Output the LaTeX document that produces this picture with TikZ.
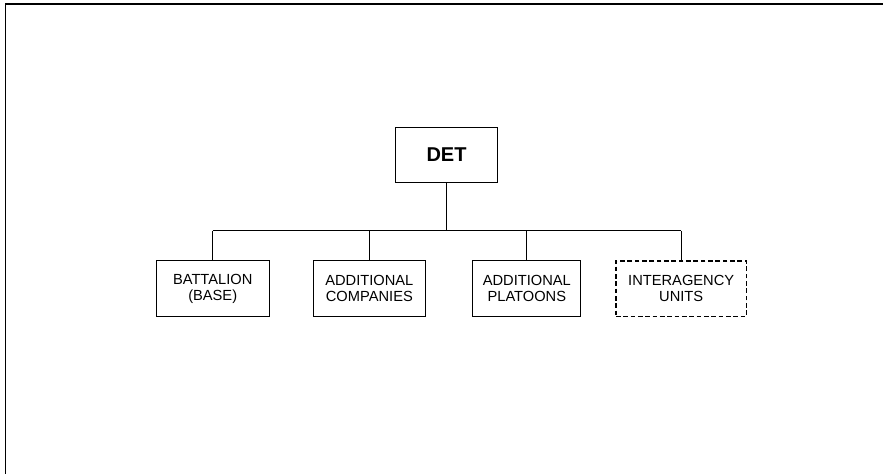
\documentclass[tikz,border=0pt]{standalone}
\usepackage{fontspec}
\setmainfont{Liberation Sans}
\usetikzlibrary{positioning}
\tikzset{
  unitbox/.style={draw=black,fill=white,line width=0.75pt,minimum height=41.6pt,inner sep=2pt,align=center,font=\fontsize{11}{12}\selectfont},
  headbox/.style={unitbox,minimum width=77pt,minimum height=41.5pt,font=\fontsize{15}{17}\selectfont\bfseries},
  dashbox/.style={unitbox,line width=1pt,dash pattern=on 3.5pt off 2pt},
  conn/.style={draw=black,line width=0.75pt},
  frameline/.style={draw=black,line width=1.1pt}
}
\begin{document}
\begin{tikzpicture}[x=0.75pt,y=-0.75pt]
  \useasboundingbox (0,0) rectangle (883,474);
  % cropped frame
  \coordinate (fa) at (5.5,474);
  \coordinate (fb) at (5.5,4);
  \coordinate (fc) at (883,4);
  \draw[frameline] (fa) -- (fb) -- (fc);
  % top
  \node[headbox] (det) at (446.5,155) {DET};
  % units
  \node[unitbox,minimum width=85pt] (batt) at (212.7,288.6) {BATTALION\\(BASE)};
  \node[unitbox,minimum width=83.5pt,right=32.5pt of batt] (comp) {ADDITIONAL\\COMPANIES};
  \node[unitbox,minimum width=81.2pt,right=35pt of comp] (plat) {ADDITIONAL\\PLATOONS};
  \node[dashbox,minimum width=98pt,right=25.3pt of plat] (inter) {INTERAGENCY\\UNITS};
  % bus
  \coordinate (bus) at (446.5,231);
  \draw[conn] (det.south) -- (bus);
  \draw[conn] (batt.north |- bus) -- (inter.north |- bus);
  \foreach \u in {batt,comp,plat,inter}
    \draw[conn] (\u.north |- bus) -- (\u.north);
\end{tikzpicture}
\end{document}
